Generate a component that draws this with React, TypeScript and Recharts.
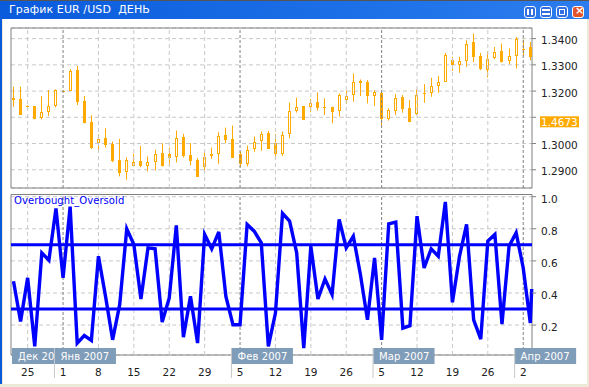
import { Bar, CartesianGrid, ComposedChart, Line, LineChart, ReferenceArea, ReferenceLine, XAxis, YAxis } from "recharts"

const FONT = "'DejaVu Sans', sans-serif"
const TITLE = "График EUR /USD  ДЕНЬ"
const INDICATOR = "Overbought_Oversold"

// price panel
const opens = [1.31734,1.31696,1.31418,1.3143,1.30987,1.31253,1.31481,1.32,1.32013,1.32797,1.3162,1.30823,1.30038,1.30215,1.29975,1.2938,1.2895,1.29165,1.29329,1.29165,1.29355,1.29633,1.29608,1.29506,1.30253,1.2957,1.2938,1.29127,1.29608,1.29658,1.30329,1.30177,1.29608,1.29279,1.2981,1.30114,1.30392,1.30013,1.29658,1.30392,1.31291,1.3143,1.31405,1.31582,1.31392,1.31392,1.31253,1.31671,1.31861,1.3238,1.32329,1.31861,1.31924,1.30949,1.31253,1.31785,1.31367,1.31152,1.31911,1.31975,1.32241,1.3238,1.33177,1.33038,1.33203,1.33861,1.33329,1.32861,1.33291,1.33519,1.33165,1.33392,1.3362,1.33671]
const closes = [1.31671,1.31089,1.31405,1.30924,1.3119,1.3143,1.32038,1.32,1.32747,1.31595,1.30798,1.29823,1.30165,1.29962,1.29342,1.28899,1.2938,1.29291,1.29127,1.29291,1.29608,1.29127,1.29468,1.30203,1.29532,1.29355,1.28747,1.29481,1.29544,1.30291,1.30139,1.29468,1.29228,1.2976,1.30051,1.30354,1.29798,1.29608,1.30329,1.31241,1.31392,1.30899,1.31532,1.31367,1.31367,1.31203,1.31835,1.31797,1.32329,1.32316,1.3181,1.31962,1.30924,1.31266,1.31722,1.31316,1.30835,1.31848,1.31899,1.3219,1.32342,1.33367,1.33,1.33139,1.3381,1.33304,1.32823,1.33241,1.33481,1.33114,1.33329,1.34,1.33608,1.33304]
const highs = [1.32165,1.32165,1.31456,1.3143,1.3181,1.32038,1.32063,1.32013,1.32835,1.32962,1.3181,1.31076,1.30354,1.30582,1.30076,1.30177,1.29468,1.29608,1.29911,1.29506,1.2976,1.30013,1.29848,1.30494,1.30367,1.30013,1.29443,1.29696,1.29848,1.3043,1.30608,1.30684,1.29696,1.29924,1.30266,1.30456,1.30481,1.30367,1.30456,1.31557,1.31747,1.3143,1.31696,1.31949,1.31722,1.31405,1.31911,1.32013,1.32671,1.32443,1.32418,1.32038,1.31975,1.31342,1.31886,1.31848,1.31658,1.32063,1.32266,1.32506,1.3257,1.33456,1.33304,1.33304,1.33937,1.3419,1.33456,1.33519,1.33684,1.3381,1.3362,1.34063,1.33962,1.33873]
const lows = [1.31405,1.31089,1.3138,1.30924,1.30924,1.31051,1.3138,1.31987,1.32013,1.31468,1.30772,1.29798,1.29684,1.29848,1.29291,1.28747,1.2862,1.29152,1.29101,1.28937,1.28975,1.29127,1.29127,1.29279,1.29468,1.29165,1.28747,1.28975,1.29418,1.29228,1.30013,1.29468,1.29089,1.29127,1.29684,1.29722,1.29798,1.2938,1.29532,1.30203,1.31177,1.30899,1.3119,1.31253,1.31089,1.30772,1.31025,1.31506,1.31595,1.3181,1.31532,1.3143,1.30671,1.30873,1.31089,1.31177,1.3081,1.31089,1.31557,1.31785,1.31937,1.32354,1.32772,1.32696,1.32924,1.33101,1.32797,1.32519,1.33215,1.33089,1.33025,1.32861,1.33329,1.33177]
const priceTicks = [1.29, 1.3, 1.31, 1.32, 1.33, 1.34]
const currentPrice = "1.4673"
const currentPriceSlot = 1.31

// indicator panel, the last value sits at the right edge of the plot
const oscillator = [0.473,0.223,0.494,0.067,0.65,0.604,0.927,0.494,0.938,0.0875,0.135,0.104,0.629,0.379,0.108,0.327,0.8,0.702,0.3625,0.681,0.675,0.219,0.369,0.821,0.125,0.379,0.0875,0.765,0.675,0.781,0.379,0.202,0.202,0.827,0.785,0.7125,0.067,0.275,0.896,0.848,0.65,0.056,0.692,0.3625,0.4875,0.39,0.858,0.681,0.754,0.515,0.233,0.619,0.108,0.831,0.842,0.181,0.196,0.879,0.556,0.675,0.629,0.967,0.342,0.629,0.827,0.233,0.1125,0.723,0.765,0.206,0.692,0.775,0.556,0.2125,0.425]
const tailDay = 73.2
const oscTicks = [0.2, 0.4, 0.6, 0.8, 1.0]
const levels = [0.7, 0.3]

// x axis, positions are candle numbers
const dayTicks = [2, 7, 12, 17, 22, 27, 32, 37, 42, 47, 52, 57, 62, 67, 72]
const dayLabels = ["25", "1", "8", "15", "22", "29", "5", "12", "19", "26", "5", "12", "19", "26", "2"]
const monthTicks = [1, 7, 32, 52, 72]
const monthLabels = ["Дек 20", "Янв 2007", "Фев 2007", "Мар 2007", "Апр 2007"]
const monthLines = [7, 32, 52, 72]

const candles = opens.map((open, i) => ({
  day: i,
  open,
  close: closes[i],
  high: highs[i],
  low: lows[i],
  range: [lows[i], highs[i]],
}))
const oscData = oscillator.map((value, i) => ({ day: i < 74 ? i : tailDay, value }))

const X_DOMAIN: [number, number] = [-0.353, 73.24]
const PRICE_DOMAIN: [number, number] = [1.28304, 1.34405]
const OSC_DOMAIN: [number, number] = [0.0134, 1.0137]
const ORANGE = "#FFAA00"
const FRAME = "#808080"
const GRID = "#C8C8C8"
const MONTH_BLUE = "#7F9CB8"

function Candle(props: any) {
  const { x, y, width, height, payload } = props
  const c = Math.floor(x + width / 2) + 0.5
  const perUnit = height / (payload.high - payload.low || 1)
  const top = y + (payload.high - Math.max(payload.open, payload.close)) * perUnit
  const bottom = y + (payload.high - Math.min(payload.open, payload.close)) * perUnit
  const up = payload.close > payload.open
  return (
    <g>
      <line x1={c} x2={c} y1={y} y2={y + height} stroke={ORANGE} />
      {up ? (
        <rect x={c - 1} y={Math.round(top) + 0.5} width={2} height={Math.max(1, Math.round(bottom - top))} fill="#fff" stroke={ORANGE} />
      ) : (
        <rect x={c - 1.5} y={Math.round(top)} width={3} height={Math.max(1, Math.round(bottom - top))} fill={ORANGE} />
      )}
    </g>
  )
}

function PriceTick({ x, y, payload }: any) {
  if (payload.value === currentPriceSlot) {
    return (
      <g>
        <rect x={x} y={y - 1} width={39} height={11} fill={ORANGE} />
        <text x={x + 1} y={y + 8.5} fontFamily={FONT} fontSize={10.5} fill="#fff">{currentPrice}</text>
      </g>
    )
  }
  return <text x={x + 1} y={y + 5.5} fontFamily={FONT} fontSize={10.5} fill="#222">{payload.value.toFixed(4)}</text>
}

function OscTick({ x, y, payload }: any) {
  return <text x={x + 1} y={y + 6} fontFamily={FONT} fontSize={10.5} fill="#222">{payload.value.toFixed(1)}</text>
}

function DayTick({ x, y, index }: any) {
  return <text x={x} y={y + 13} textAnchor="middle" fontFamily={FONT} fontSize={10.5} fill="#222">{dayLabels[index]}</text>
}

// month tag hangs off the plot's lower edge, anchored on its tick
function MonthTag({ x, bottom, index }: any) {
  const left = x - 8.6
  const top = bottom - 7
  const width = index === 0 ? 42 : 61
  return (
    <g>
      {index > 0 && <line x1={left} x2={left} y1={top} y2={top + 30} stroke={GRID} />}
      <rect x={index > 0 ? left + 0.5 : left} y={top} width={width} height={16} fill={MONTH_BLUE} />
      <text x={left + 6} y={top + 12} fontFamily={FONT} fontSize={10} letterSpacing={0.1} fill="#fff">{monthLabels[index]}</text>
    </g>
  )
}

function WindowButton({ left, close, children }: any) {
  return (
    <div style={{ position: "absolute", left, top: 5, width: 10, height: 10, border: "1px solid #fff", borderRadius: 3, background: close ? "#E2552B" : "#2F6FE0" }}>
      {children}
    </div>
  )
}

function TitleBar() {
  return (
    <div style={{ position: "absolute", left: 0, top: 0, width: 589, height: 19, background: "linear-gradient(90deg, #0A5BDC 0%, #2B7DEE 100%)", borderTop: "1px solid #555", boxSizing: "border-box" }}>
      <div style={{ position: "absolute", left: 9, top: 2, color: "#fff", font: `11px ${FONT}`, whiteSpace: "pre", letterSpacing: 0.1 }}>{TITLE}</div>
      <WindowButton left={524}>
        <div style={{ position: "absolute", left: 2, top: 2, width: 2, height: 6, background: "#fff" }} />
        <div style={{ position: "absolute", left: 6, top: 2, width: 2, height: 6, background: "#fff" }} />
      </WindowButton>
      <WindowButton left={540}>
        <div style={{ position: "absolute", left: 1, top: 2, width: 8, height: 2, background: "#fff" }} />
        <div style={{ position: "absolute", left: 1, top: 6, width: 8, height: 2, background: "#fff" }} />
      </WindowButton>
      <WindowButton left={556}>
        <div style={{ position: "absolute", left: 2, top: 2, width: 4, height: 4, border: "1px solid #fff" }} />
      </WindowButton>
      <WindowButton left={572} close>
        <div style={{ position: "absolute", left: 2, top: -3, color: "#fff", font: `bold 11px ${FONT}` }}>×</div>
      </WindowButton>
    </div>
  )
}

export default function App() {
  const dayLines = dayTicks.map((day) => (
    <ReferenceLine
      key={day}
      x={day}
      stroke={monthLines.includes(day) ? FRAME : GRID}
      strokeDasharray={monthLines.includes(day) ? "3 2" : "4 3"}
    />
  ))
  return (
    <div style={{ position: "absolute", left: 0, top: 0, width: 589, height: 387, overflow: "hidden", background: "#fff" }}>
      <div style={{ position: "absolute", left: 0, top: 0, width: 2, height: 387, background: "#0A5BDC" }} />
      <div style={{ position: "absolute", left: 2, top: 0, width: 1, height: 387, background: "#ECE9D8" }} />
      <div style={{ position: "absolute", left: 587, top: 0, width: 2, height: 387, background: "#ECE9D8" }} />
      <div style={{ position: "absolute", left: 0, top: 384, width: 589, height: 3, background: "#ECE9D8" }} />
      <TitleBar />

      <div style={{ position: "absolute", left: 0, top: 0 }}>
        <ComposedChart width={589} height={190} data={candles} margin={{ top: 28, right: 0, bottom: 2, left: 11 }}>
          <CartesianGrid stroke={GRID} strokeDasharray="4 3" vertical={false} />
          <XAxis dataKey="day" type="number" domain={X_DOMAIN} ticks={dayTicks} interval={0} hide />
          <YAxis orientation="right" width={57} domain={PRICE_DOMAIN} ticks={priceTicks} interval={0} axisLine={false} tickSize={4} tickMargin={4} tickLine={{ stroke: FRAME }} tick={<PriceTick />} />
          {dayLines}
          <ReferenceArea x1={X_DOMAIN[0]} x2={X_DOMAIN[1]} y1={PRICE_DOMAIN[0]} y2={PRICE_DOMAIN[1]} fill="none" stroke={FRAME} strokeWidth={1} fillOpacity={0} />
          <Bar dataKey="range" barSize={5} shape={<Candle />} isAnimationActive={false} />
        </ComposedChart>
      </div>

      <div style={{ position: "absolute", left: 0, top: 190 }}>
        <LineChart width={589} height={197} data={oscData} margin={{ top: 4.5, right: 0, bottom: 0, left: 11 }}>
          <CartesianGrid stroke={GRID} strokeDasharray="4 3" vertical={false} />
          <XAxis dataKey="day" type="number" domain={X_DOMAIN} ticks={dayTicks} interval={0} height={32} axisLine={false} tickLine={false} tick={<DayTick />} />
          <YAxis orientation="right" width={57} domain={OSC_DOMAIN} ticks={oscTicks} interval={0} axisLine={false} tickSize={4} tickMargin={4} tickLine={{ stroke: FRAME }} tick={<OscTick />} />
          {dayLines}
          <ReferenceArea x1={X_DOMAIN[0]} x2={X_DOMAIN[1]} y1={OSC_DOMAIN[0]} y2={OSC_DOMAIN[1]} fill="none" stroke={FRAME} strokeWidth={1} fillOpacity={0} />
          {levels.map((level) => (
            <ReferenceLine key={level} y={level} stroke="#0000FF" strokeWidth={3} />
          ))}
          <Line dataKey="value" stroke="#0000FF" strokeWidth={3.4} dot={false} isAnimationActive={false} />
          {monthTicks.map((day, index) => (
            <ReferenceLine
              key={day}
              x={day}
              stroke="none"
              zIndex={1000}
              shape={(p: any) => <MonthTag x={p.x1} bottom={Math.max(p.y1, p.y2)} index={index} />}
            />
          ))}
        </LineChart>
      </div>

      <div style={{ position: "absolute", left: 14, top: 195, color: "#0000FF", font: `10px ${FONT}`, letterSpacing: 0.07 }}>{INDICATOR}</div>
    </div>
  )
}
